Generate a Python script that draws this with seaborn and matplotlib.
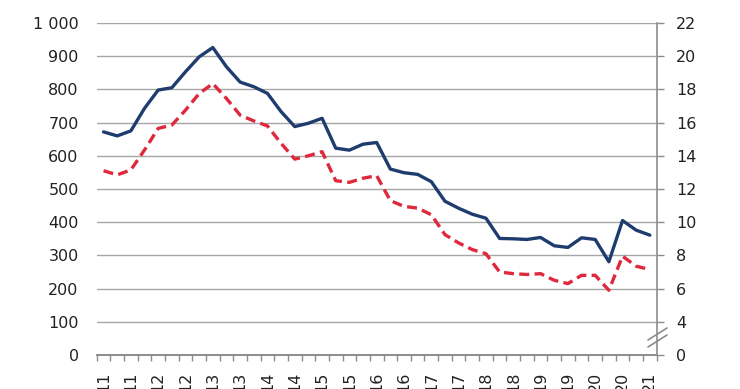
import matplotlib
matplotlib.use("Agg")
import matplotlib.pyplot as plt
from matplotlib.lines import Line2D
import pandas as pd
import seaborn as sns

# quarterly data, 2011Q1 - 2021Q1
quarter = list(range(41))
tick_labels = ["11", "11", "12", "12", "13", "13", "14", "14", "15", "15", "16",
               "16", "17", "17", "18", "18", "19", "19", "20", "20", "21"]

# left axis series (solid navy)
left_values = [672, 660, 675, 743, 798, 805, 853, 898, 926, 868, 822, 808, 788,
               733, 688, 698, 713, 623, 617, 635, 640, 560, 549, 544, 522, 463,
               442, 424, 412, 351, 350, 348, 354, 329, 324, 353, 348, 281, 405,
               376, 361]

# right axis series (dashed red)
right_values = [13.1, 12.85, 13.15, 14.35, 15.65, 15.85, 16.75, 17.75, 18.35,
                17.45, 16.45, 16.1, 15.8, 14.75, 13.8, 14.0, 14.25, 12.5, 12.4,
                12.65, 12.8, 11.3, 10.95, 10.85, 10.45, 9.25, 8.75, 8.35, 8.1,
                7.0, 6.9, 6.85, 6.9, 6.5, 6.3, 6.8, 6.8, 5.9, 7.95, 7.35, 7.15]

left_ticks = list(range(0, 1001, 100))
right_ticks = [2, 4, 6, 8, 10, 12, 14, 16, 18, 20, 22]
right_tick_labels = ["0", "4", "6", "8", "10", "12", "14", "16", "18", "20", "22"]

df = pd.DataFrame({"q": quarter, "left": left_values, "right": right_values})

sns.set_theme(style="white")
plt.rcParams["font.family"] = ["DejaVu Sans"]

navy = "#1f3c6e"
red = "#e0283c"
text_col = "#222222"
grid_col = "#a6a6a6"
axis_col = "#8c8c8c"

fig = plt.figure(figsize=(7.4, 3.89), dpi=100)
ax = fig.add_axes([0.1307, 0.0874, 0.7567, 0.8535])
ax2 = ax.twinx()

sns.lineplot(data=df, x="q", y="left", ax=ax, color=navy, linewidth=2.4)
sns.lineplot(data=df, x="q", y="right", ax=ax2, color=red, linewidth=2.4,
             dashes=False)
ax2.lines[0].set_dashes([3.0, 1.6])

# left axis
ax.set_ylim(0, 1000)
ax.set_yticks(left_ticks)
ax.set_yticklabels(["0", "100", "200", "300", "400", "500", "600", "700",
                    "800", "900", "1 000"])
ax.yaxis.grid(True, color=grid_col, linewidth=1.0)
ax.set_axisbelow(True)
ax.tick_params(axis="y", length=0, pad=13, labelsize=11.5, labelcolor=text_col)

# x axis
ax.set_xlim(-0.5, 40.5)
ax.set_xticks(list(range(0, 41, 2)))
ax.set_xticklabels(tick_labels, rotation=90)
ax.set_xticks([i - 0.5 for i in range(42)], minor=True)
ax.tick_params(axis="x", which="major", length=0, pad=12, labelsize=11.5,
               labelcolor=text_col)
ax.tick_params(axis="x", which="minor", length=4.5, width=1, color=axis_col,
               direction="out", bottom=True)
ax.set_xlabel("")
ax.set_ylabel("")

# right axis
ax2.set_ylim(2, 22)
ax2.set_yticks(right_ticks)
ax2.set_yticklabels(right_tick_labels)
ax2.tick_params(axis="y", length=5, width=1, color=axis_col, pad=9,
                labelsize=11.5, labelcolor=text_col, right=True)
ax2.set_ylabel("")

for a in (ax, ax2):
    a.spines["top"].set_visible(False)
    a.spines["left"].set_visible(False)
    a.spines["bottom"].set_color(axis_col)
    a.spines["right"].set_color(axis_col)
    a.spines["bottom"].set_linewidth(1.2)
    a.spines["right"].set_linewidth(1.2)
ax.spines["right"].set_visible(False)

# axis break marks on the right spine
W, H = 740.0, 389.0
for y0, y1 in [(340, 328), (347, 335)]:
    fig.add_artist(Line2D([648 / W, 667 / W], [1 - y0 / H, 1 - y1 / H],
                          transform=fig.transFigure, color=axis_col, lw=1.2))

fig.savefig("out.png", dpi=100)
